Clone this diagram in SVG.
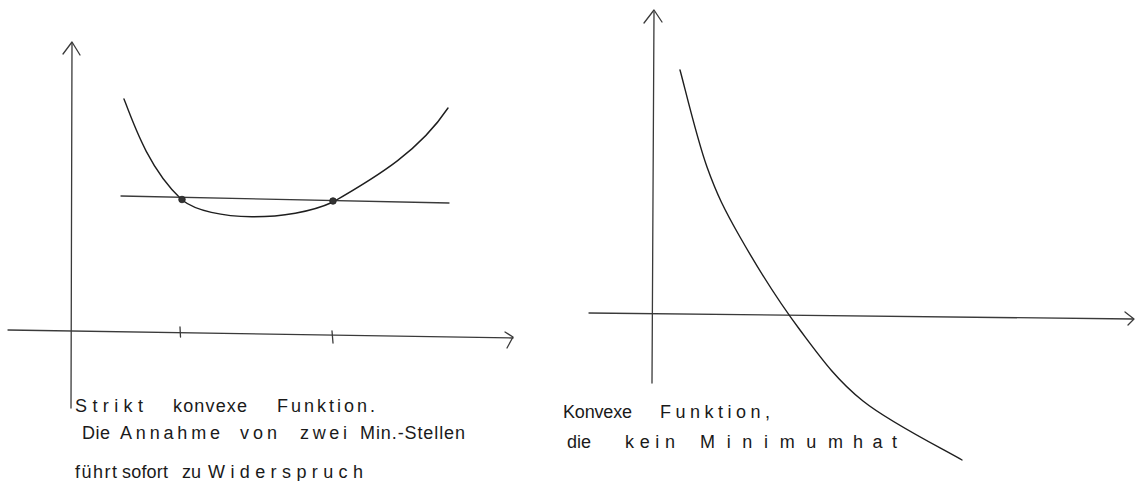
<svg xmlns="http://www.w3.org/2000/svg" width="1135" height="481" viewBox="0 0 1135 481">
<style>
.ax{fill:none;stroke:#3a3a3a;stroke-width:1.3;stroke-linecap:round;stroke-linejoin:round}
.cv{fill:none;stroke:#1e1e1e;stroke-width:1.4;stroke-linecap:round;stroke-linejoin:round}
.dot{fill:#333;stroke:#222;stroke-width:0.8}
.t{font-family:"Liberation Sans",Arial,sans-serif;font-size:18px;fill:#1a1a1a}
</style>
<rect width="1135" height="481" fill="#ffffff"/>
<g id="left-graph">
  <g id="left-axes">
    <line class="ax" x1="72" y1="43" x2="71" y2="408"/>
    <polyline class="ax" points="63,54 72,42 80,55"/>
    <line class="ax" x1="8" y1="330" x2="513" y2="338"/>
    <polyline class="ax" points="505,332 513,337 507,348"/>
    <line class="ax" x1="180" y1="327" x2="180.5" y2="337"/>
    <line class="ax" x1="332" y1="331" x2="333" y2="343"/>
  </g>
  <g id="left-curve">
    <path class="cv" d="M124,99 C135,128 150,170 182,200 C210,222 290,222 333,202 C380,175 420,150 448,108"/>
  </g>
  <g id="left-secant">
    <line class="ax" x1="121" y1="196" x2="449" y2="203"/>
  </g>
  <g id="left-points">
    <circle class="dot" cx="182" cy="199.5" r="3.3"/>
    <circle class="dot" cx="333" cy="201" r="3.3"/>
  </g>
  <g id="left-caption">
    <text class="t" y="412"><tspan x="75" textLength="68" lengthAdjust="spacing">Strikt</tspan> <tspan x="173" textLength="74" lengthAdjust="spacing">konvexe</tspan> <tspan x="277" textLength="98" lengthAdjust="spacing">Funktion.</tspan></text>
    <text class="t" y="439"><tspan x="82" textLength="28" lengthAdjust="spacing">Die</tspan> <tspan x="120" textLength="100" lengthAdjust="spacing">Annahme</tspan> <tspan x="240" textLength="37" lengthAdjust="spacing">von</tspan> <tspan x="300" textLength="47" lengthAdjust="spacing">zwei</tspan> <tspan x="360" textLength="105" lengthAdjust="spacing">Min.-Stellen</tspan></text>
    <text class="t" y="478"><tspan x="75" textLength="42" lengthAdjust="spacing">führt</tspan> <tspan x="122" textLength="46" lengthAdjust="spacing">sofort</tspan> <tspan x="182" textLength="19" lengthAdjust="spacing">zu</tspan> <tspan x="208" textLength="155" lengthAdjust="spacing">Widerspruch</tspan></text>
  </g>
</g>
<g id="right-graph">
  <g id="right-axes">
    <line class="ax" x1="654" y1="12" x2="652" y2="383"/>
    <polyline class="ax" points="644,23 654,10 662,22"/>
    <line class="ax" x1="589" y1="313" x2="1133" y2="319"/>
    <polyline class="ax" points="1125,312 1134,319 1128,325"/>
  </g>
  <g id="right-curve">
    <path class="cv" d="M680,70 C684.5,86.2 697,139.2 707,167 C717,194.8 724.5,209.8 740,237 C755.5,264.2 779.5,302.7 800,330 C820.5,357.3 836,379.3 863,401 C890,422.7 945.5,450.2 962,460"/>
  </g>
  <g id="right-caption">
    <text class="t" y="418"><tspan x="563" textLength="69" lengthAdjust="spacing">Konvexe</tspan> <tspan x="660" textLength="110" lengthAdjust="spacing">Funktion,</tspan></text>
    <text class="t" y="448"><tspan x="567" textLength="24" lengthAdjust="spacing">die</tspan> <tspan x="625" textLength="50" lengthAdjust="spacing">kein</tspan> <tspan x="700" textLength="143" lengthAdjust="spacing">Minimum</tspan> <tspan x="853" textLength="44" lengthAdjust="spacing">hat</tspan></text>
  </g>
</g>
</svg>
